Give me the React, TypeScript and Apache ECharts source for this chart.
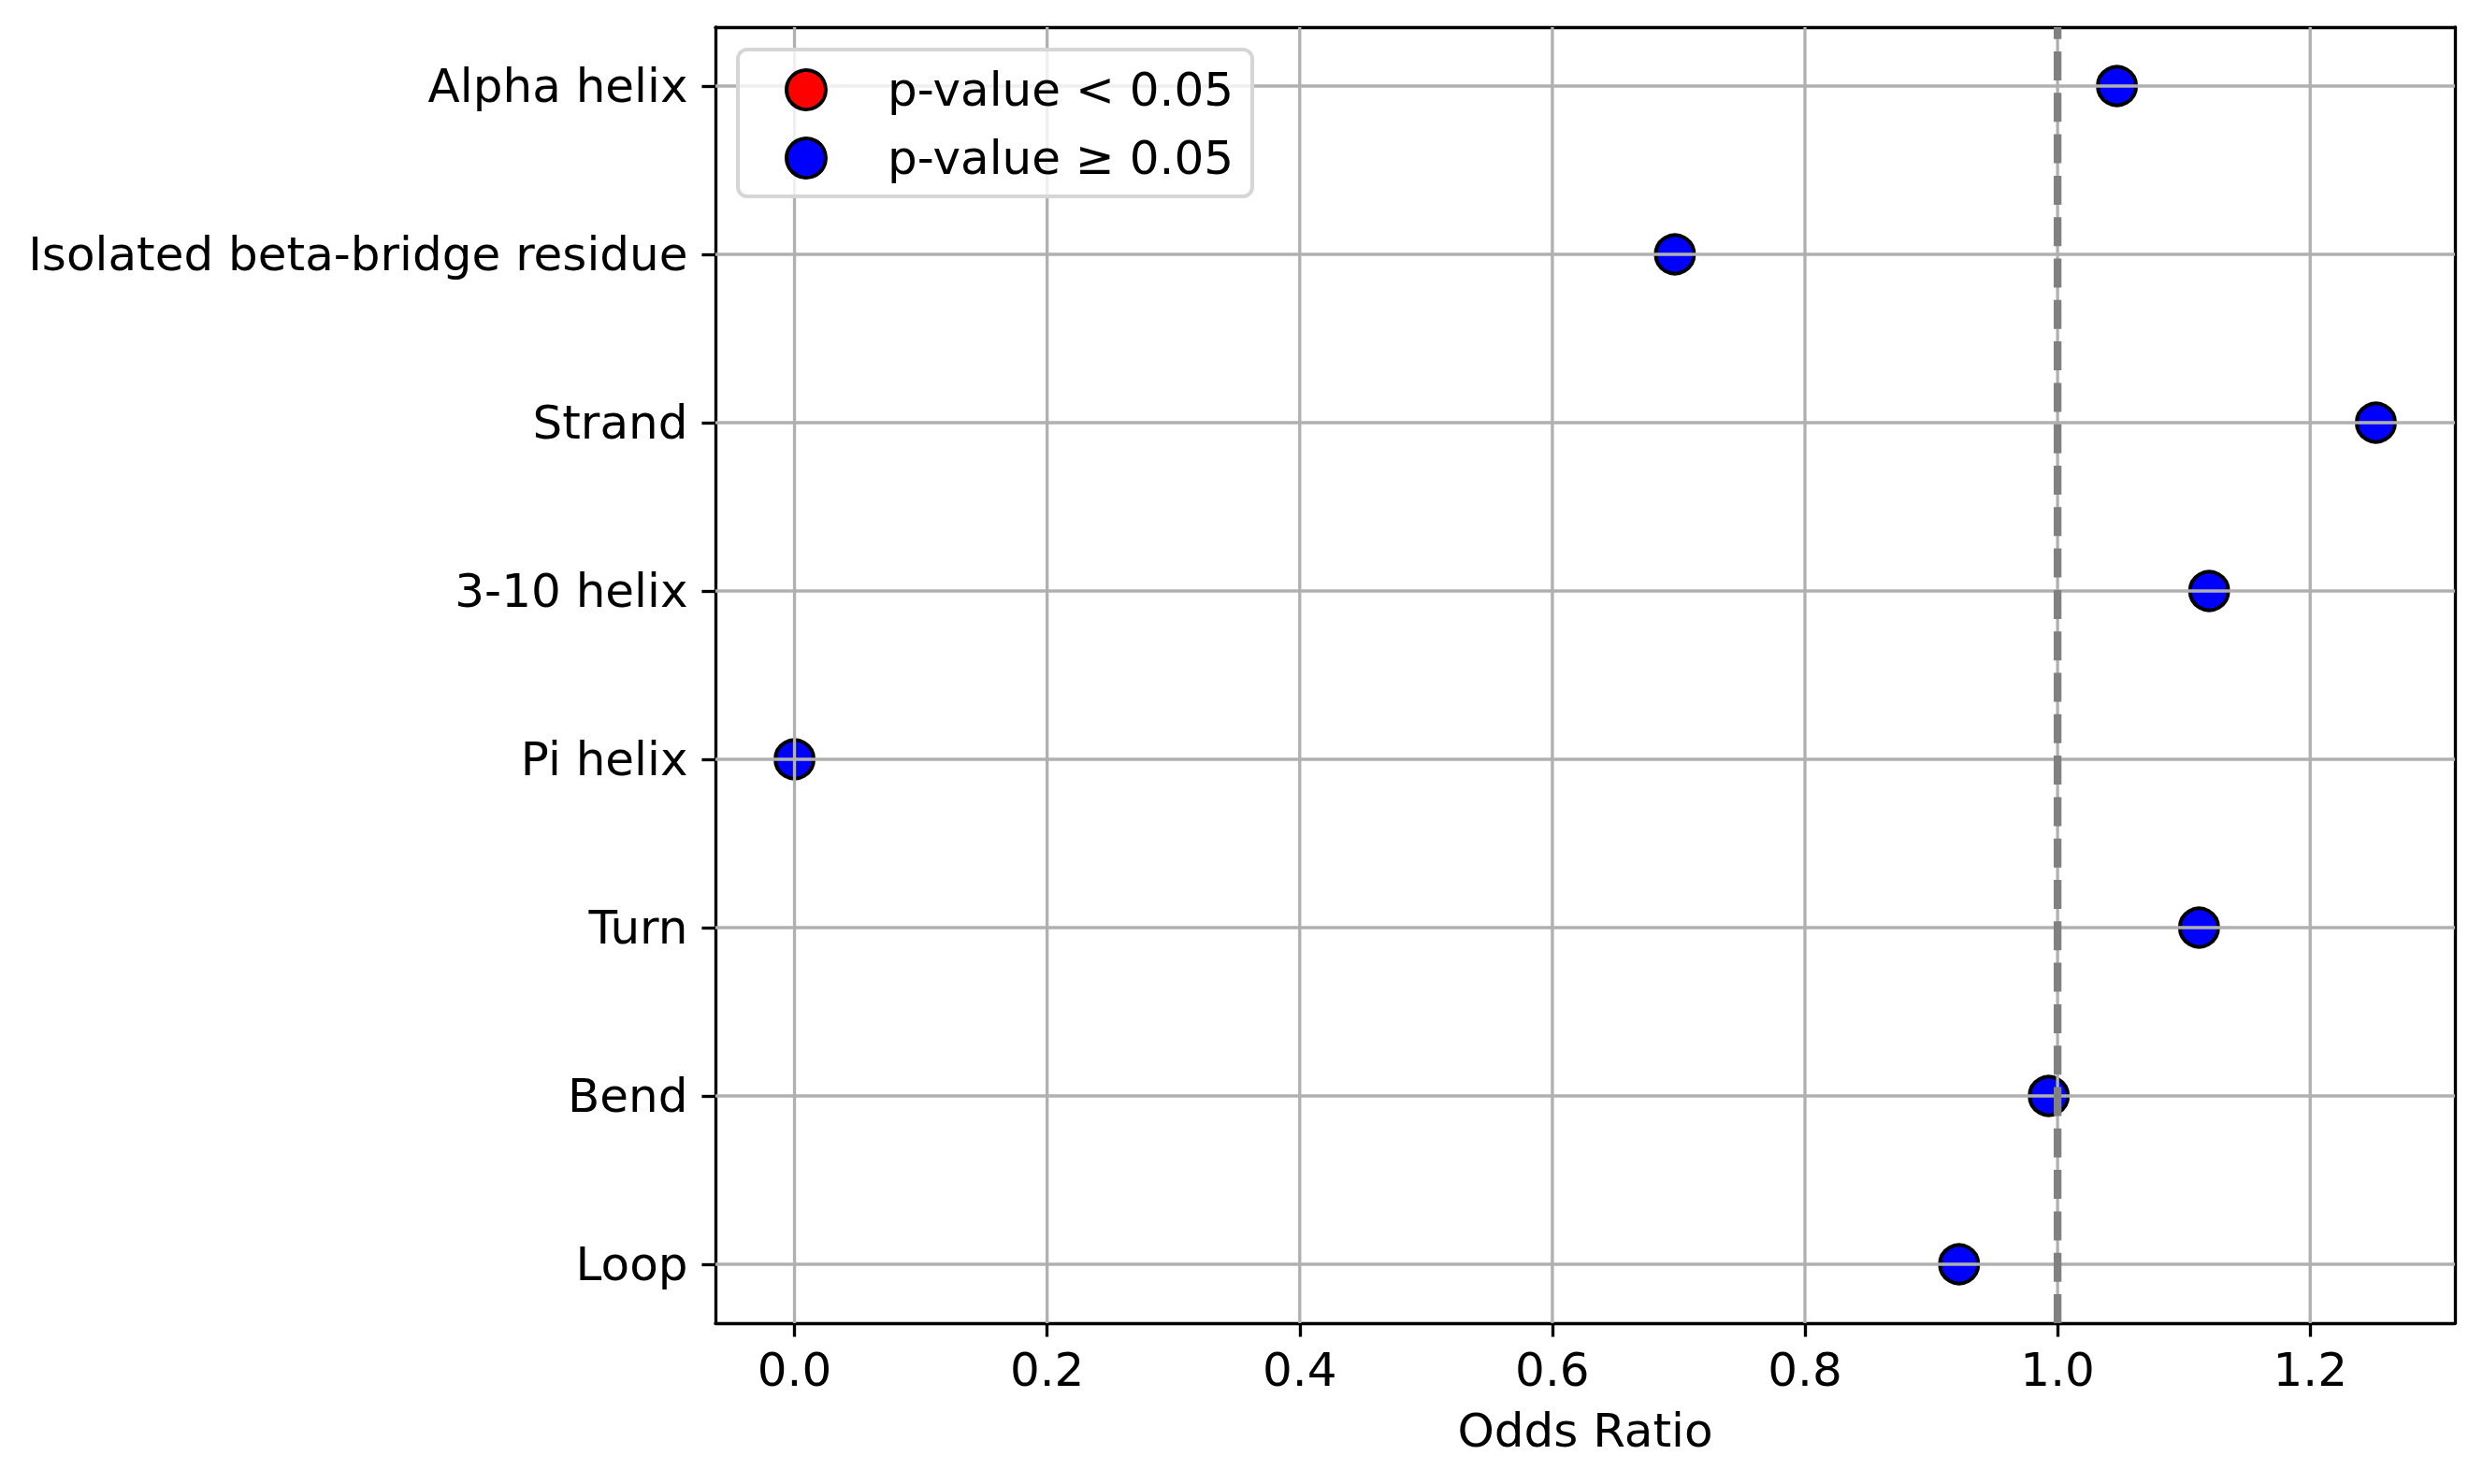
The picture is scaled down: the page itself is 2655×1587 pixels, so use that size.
import React, { useEffect, useRef } from "react";
import * as echarts from "echarts";

const categories = [
  "Alpha helix",
  "Isolated beta-bridge residue",
  "Strand",
  "3-10 helix",
  "Pi helix",
  "Turn",
  "Bend",
  "Loop",
];
const oddsRatios = [1.047, 0.697, 1.252, 1.12, 0.0, 1.112, 0.993, 0.922];
const significant = [false, false, false, false, false, false, false, false];
const xTicks = [0.0, 0.2, 0.4, 0.6, 0.8, 1.0, 1.2];
const referenceValue = 1.0;
const legendLabels = ["p-value < 0.05", "p-value \u2265 0.05"];
const xAxisTitle = "Odds Ratio";

const FONT = "DejaVu Sans";
const FS = 50;
const LW = 3.33;
const GRID_COLOR = "#b0b0b0";

export default function App() {
  const ref = useRef<HTMLDivElement>(null);

  useEffect(() => {
    if (!ref.current) return;
    const chart = echarts.init(ref.current, undefined, { renderer: "svg" });

    const lo = Math.min(0, ...oddsRatios);
    const hi = Math.max(...oddsRatios);
    const xPad = 0.05 * (hi - lo);
    const xMin = lo - xPad;
    const xMax = hi + xPad;
    const yPad = 0.05 * (categories.length - 1);
    const yMin = -yPad;
    const yMax = categories.length - 1 + yPad;
    const yIdx = categories.map((_, i) => i);

    const sigData: number[][] = [];
    const nsData: number[][] = [];
    oddsRatios.forEach((v, i) => {
      (significant[i] ? sigData : nsData).push([v, i]);
    });

    const gridSeries: any[] = [];
    xTicks.forEach((t) => {
      gridSeries.push({
        type: "line",
        silent: true,
        symbol: "none",
        z: 3,
        data: [
          [t, yMin],
          [t, yMax],
        ],
        lineStyle: { color: GRID_COLOR, width: LW, type: "solid" },
      });
    });
    yIdx.forEach((i) => {
      gridSeries.push({
        type: "line",
        silent: true,
        symbol: "none",
        z: 3,
        data: [
          [xMin, i],
          [xMax, i],
        ],
        lineStyle: { color: GRID_COLOR, width: LW, type: "solid" },
      });
    });

    const option: any = {
      animation: false,
      backgroundColor: "#ffffff",
      textStyle: { fontFamily: FONT },
      grid: { left: 765, top: 29, width: 1860, height: 1386, containLabel: false },
      legend: {
        data: legendLabels,
        orient: "vertical",
        left: 789,
        top: 53,
        z: 10,
        padding: [18, 20, 16, 50],
        itemGap: 23,
        itemWidth: 42,
        itemHeight: 42,
        icon: "circle",
        backgroundColor: "rgba(255,255,255,0.8)",
        borderColor: "#d6d6d6",
        borderWidth: 4,
        borderRadius: 10,
        selectedMode: false,
        itemStyle: { borderColor: "#000000", borderWidth: 4 },
        textStyle: {
          fontFamily: FONT,
          fontSize: FS,
          color: "#000000",
          padding: [4, 0, 0, 61],
        },
      },
      xAxis: [
        {
          type: "value",
          min: xMin,
          max: xMax,
          position: "bottom",
          name: xAxisTitle,
          nameLocation: "middle",
          nameGap: 90,
          nameTextStyle: { fontFamily: FONT, fontSize: FS, color: "#000000" },
          splitLine: { show: false },
          axisLine: { show: true, onZero: false, lineStyle: { color: "#000000", width: LW } },
          axisTick: {
            show: true,
            length: 14.6,
            customValues: xTicks,
            lineStyle: { color: "#000000", width: LW },
          },
          axisLabel: {
            show: true,
            customValues: xTicks,
            margin: 25,
            fontFamily: FONT,
            fontSize: FS,
            color: "#000000",
            formatter: (v: number) => v.toFixed(1),
          },
        },
        {
          type: "value",
          min: xMin,
          max: xMax,
          position: "top",
          splitLine: { show: false },
          axisLine: { show: true, onZero: false, lineStyle: { color: "#000000", width: LW } },
          axisTick: { show: false },
          axisLabel: { show: false },
        },
      ],
      yAxis: [
        {
          type: "value",
          inverse: true,
          min: yMin,
          max: yMax,
          position: "left",
          splitLine: { show: false },
          axisLine: { show: true, onZero: false, lineStyle: { color: "#000000", width: LW } },
          axisTick: {
            show: true,
            length: 14.6,
            customValues: yIdx,
            lineStyle: { color: "#000000", width: LW },
          },
          axisLabel: {
            show: true,
            customValues: yIdx,
            margin: 29.5,
            fontFamily: FONT,
            fontSize: FS,
            color: "#000000",
            formatter: (v: number) => categories[Math.round(v)] ?? "",
          },
        },
        {
          type: "value",
          inverse: true,
          min: yMin,
          max: yMax,
          position: "right",
          splitLine: { show: false },
          axisLine: { show: true, onZero: false, lineStyle: { color: "#000000", width: LW } },
          axisTick: { show: false },
          axisLabel: { show: false },
        },
      ],
      series: [
        {
          name: legendLabels[0],
          type: "scatter",
          z: 2,
          symbol: "circle",
          symbolSize: 41,
          itemStyle: { color: "#ff0000", borderColor: "#000000", borderWidth: 4, opacity: 1 },
          data: sigData,
        },
        {
          name: legendLabels[1],
          type: "scatter",
          z: 2,
          symbol: "circle",
          symbolSize: 41,
          itemStyle: { color: "#0000ff", borderColor: "#000000", borderWidth: 4, opacity: 1 },
          data: nsData,
        },
        ...gridSeries,
        {
          type: "line",
          silent: true,
          symbol: "none",
          z: 4,
          data: [
            [referenceValue, yMax],
            [referenceValue, yMin],
          ],
          lineStyle: { color: "#808080", width: 8.33, type: [31, 13.3] },
        },
      ],
    };

    chart.setOption(option);
    return () => chart.dispose();
  }, []);

  return (
    <div
      ref={ref}
      style={{ position: "absolute", left: 0, top: 0, width: 2655, height: 1587, background: "#fff" }}
    />
  );
}
